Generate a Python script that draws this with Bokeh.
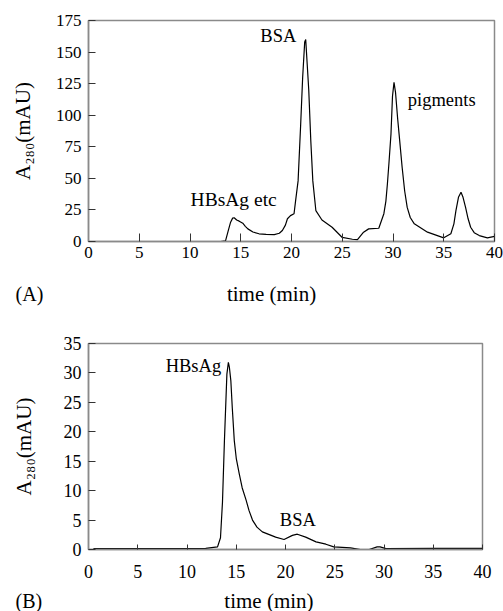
from bokeh.plotting import figure
from bokeh.layouts import column
from bokeh.models import Label, FixedTicker, Range1d
from bokeh.core.properties import value
from bokeh.embed import file_html
from bokeh.resources import INLINE

# ---- data: chart (A) ----
time_a = [0, 13.0, 13.5, 13.75, 14.0, 14.2, 14.35, 14.6, 14.85, 15.2, 15.45, 15.7,
          16.2, 16.8, 17.5, 18.3, 18.8, 19.1, 19.4, 19.6, 19.9, 20.25, 20.4,
          20.65, 20.9, 21.1, 21.3, 21.4, 21.55, 21.7, 21.9, 22.1, 22.4, 23.0,
          24.0, 25.0, 26.0, 26.5, 27.1, 27.6, 28.6, 29.1, 29.3, 29.45, 29.6,
          29.8, 29.95, 30.1, 30.25, 30.45, 30.6, 30.9, 31.15, 31.4, 31.7, 32.1,
          33.4, 35.0, 35.7, 36.0, 36.2, 36.45, 36.7, 36.9, 37.15, 37.4, 37.65,
          38.0, 38.5, 39.3, 40]
abs_a = [0, 0, 0.5, 8, 15.3, 18.5, 18.8, 17, 16.1, 14.5, 12, 10,
         7.5, 6.1, 5.6, 5.5, 6.5, 8.7, 13, 18, 20.5, 22, 32,
         48, 92, 130, 158, 160, 140, 120, 80, 48, 24.5, 17,
         11.3, 3.2, 1.8, 1.5, 7.4, 10, 10.5, 22, 32, 45.7, 62,
         85, 115, 126, 118, 98, 85, 58.8, 40, 27, 19, 14,
         7.4, 2.9, 6.1, 14, 24.5, 35, 39, 35, 27, 18, 11.3,
         7, 4.7, 2.9, 4]

# ---- data: chart (B) ----
time_b = [0.5, 11.9, 13.1, 13.4, 13.6, 13.8, 14.05, 14.2, 14.3, 14.45, 14.6,
          14.8, 15.0, 15.3, 15.6, 16.0, 16.3, 16.65, 17.1, 17.65, 19.0, 19.85,
          20.7, 21.2, 22.05, 23.1, 24.1, 24.9, 26.6, 27.6, 28.5, 29.3, 29.6,
          30.2, 35, 40]
abs_b = [0.15, 0.2, 0.45, 2.0, 8, 18.5, 29.8, 31.8, 31, 28.7, 24,
         18.5, 15.5, 12.9, 10.5, 8.4, 6.6, 5.0, 3.8, 3.0, 2.1, 1.7,
         2.4, 2.6, 2.1, 1.3, 0.9, 0.45, 0.28, 0.0, 0.0, 0.45, 0.45,
         0.15, 0.2, 0.2]

x_ticks = [0, 5, 10, 15, 20, 25, 30, 35, 40]
y_ticks_a = [0, 25, 50, 75, 100, 125, 150, 175]
y_ticks_b = [0, 5, 10, 15, 20, 25, 30, 35]
X_MIN, X_MAX = 0, 40

FONT = "Liberation Serif, Times New Roman, serif"
AXIS_GRAY = "#8a8a8a"
W = 503
LEFT = 88
RIGHT_A = 494
RIGHT_B = 482


def no_align(p):
    try:
        p.frame_align = False
    except Exception:
        pass


def style(p, yt, tick_font, x_tick_in, x_standoff, ylabel_standoff):
    p.xgrid.visible = False
    p.ygrid.visible = False
    p.outline_line_color = AXIS_GRAY
    p.outline_line_width = 1.5
    p.background_fill_color = "white"
    p.border_fill_color = "white"
    for ax in (p.xaxis[0], p.yaxis[0]):
        ax.axis_line_color = AXIS_GRAY
        ax.axis_line_width = 1.5
        ax.major_tick_line_color = "#333333"
        ax.major_tick_line_width = 1
        ax.minor_tick_line_color = None
        ax.major_tick_out = 0
        ax.major_label_text_font = FONT
        ax.major_label_text_font_size = tick_font
        ax.major_label_text_color = "black"
    p.xaxis[0].ticker = FixedTicker(ticks=x_ticks)
    p.yaxis[0].ticker = FixedTicker(ticks=yt)
    p.xaxis[0].major_tick_in = x_tick_in
    p.yaxis[0].major_tick_in = 7
    p.xaxis[0].major_label_standoff = x_standoff
    p.yaxis[0].major_label_standoff = 7
    ya = p.yaxis[0]
    ya.axis_label = "A₂₈₀(mAU)"
    ya.axis_label_text_font = FONT
    ya.axis_label_text_font_size = "21px"
    ya.axis_label_text_font_style = "normal"
    ya.axis_label_text_color = "black"
    ya.axis_label_standoff = ylabel_standoff
    no_align(p)


def lab(p, x, y, text, size):
    p.add_layout(Label(x=x, y=y, text=text, text_font=FONT,
                       text_font_size=size, text_align="center",
                       text_baseline="middle", text_color="black"))


def strip(height, right, left_x, left_text, center_x, center_text, ypos):
    # a text-only row under a chart, sharing the chart's minute scale
    per_px = (X_MAX - X_MIN) / (right - LEFT)
    s = figure(width=W, height=height, output_backend="svg", toolbar_location=None,
               x_range=Range1d(X_MIN - LEFT * per_px, X_MAX + (W - right) * per_px),
               y_range=Range1d(0, 1), x_axis_location=None, y_axis_location=None,
               min_border=0, min_border_left=0, min_border_right=0,
               min_border_top=0, min_border_bottom=0)
    s.outline_line_color = None
    s.xgrid.visible = False
    s.ygrid.visible = False
    s.text(x=[left_x], y=[ypos], text=[left_text], text_font=value(FONT),
           text_font_size=value("20px"), text_align="left",
           text_baseline="middle", text_color="black")
    s.text(x=[center_x], y=[ypos], text=[center_text], text_font=value(FONT),
           text_font_size=value("21px"), text_align="center",
           text_baseline="middle", text_color="black")
    no_align(s)
    return s


# ---- (A) ----
pa = figure(width=W, height=280, output_backend="svg", toolbar_location=None,
            x_range=Range1d(X_MIN, X_MAX), y_range=Range1d(0, 175),
            min_border_left=LEFT, min_border_right=W - RIGHT_A,
            min_border_top=20, min_border_bottom=39)
style(pa, y_ticks_a, "17px", 8, 5, 18)
pa.line(time_a, abs_a, line_color="black", line_width=1.2)
lab(pa, 18.7, 163, "BSA", "18.5px")
lab(pa, 34.8, 112.4, "pigments", "18.5px")
lab(pa, 14.3, 33, "HBsAg etc", "19.5px")
sa = strip(26, RIGHT_A, -7.19, "(A)", 18.03, "time (min)", 0.5)

# ---- (B) ----
pb = figure(width=W, height=283, output_backend="svg", toolbar_location=None,
            x_range=Range1d(X_MIN, X_MAX), y_range=Range1d(0, 35),
            min_border_left=LEFT, min_border_right=W - RIGHT_B,
            min_border_top=37, min_border_bottom=40)
style(pb, y_ticks_b, "18px", 5, 15, 25)
pb.line(time_b, abs_b, line_color="black", line_width=1.2)
lab(pb, 10.65, 31.2, "HBsAg", "18.5px")
lab(pb, 21.25, 4.96, "BSA", "18.5px")
sb = strip(22, RIGHT_B, -7.41, "(B)", 18.32, "time (min)", 0.5)

layout = column(pa, sa, pb, sb, spacing=0)
open("out.html", "w").write(file_html(layout, INLINE))
